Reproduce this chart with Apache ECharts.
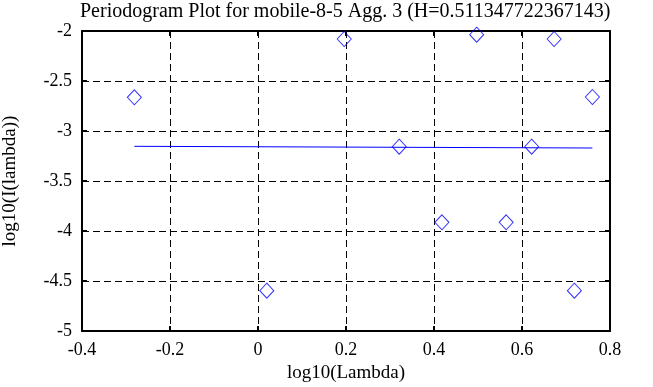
<!DOCTYPE html>
<html>
<head>
<meta charset="utf-8">
<script src="https://cdn.jsdelivr.net/npm/echarts@6/dist/echarts.min.js"></script>
<style>html,body{margin:0;padding:0;background:#fff}#c{width:653px;height:387px}</style>
</head>
<body>
<div id="c"></div>
<script>
var xVals = [-0.281, 0.020, 0.196, 0.321, 0.418, 0.497, 0.564, 0.622, 0.673, 0.719, 0.760];
var yVals = [-2.663, -4.597, -2.080, -3.157, -3.913, -2.037, -3.913, -3.157, -2.080, -4.597, -2.660];
var fitX = [-0.281, 0.760];
var fitY = [-3.153, -3.170];
var xTicks = [-0.4, -0.2, 0, 0.2, 0.4, 0.6, 0.8];
var yTicks = [-5, -4.5, -4, -3.5, -3, -2.5, -2];

var pts = xVals.map(function (x, i) { return [x, yVals[i]]; });
var fit = fitX.map(function (x, i) { return [x, fitY[i]]; });
var font = 'Liberation Serif';

var chart = echarts.init(document.getElementById('c'), null, {renderer: 'canvas'});
function axisCommon(showLabel) {
  return {
    axisLine: {show: true, onZero: false, lineStyle: {color: '#000', width: 2}},
    axisTick: {show: true, inside: true, length: 5, lineStyle: {color: '#000', width: 2}},
    axisLabel: {show: showLabel, color: '#000', fontFamily: font, fontSize: 18},
    splitLine: {show: false}
  };
}
var xMain = Object.assign(axisCommon(true), {
  type: 'value', position: 'bottom', min: xTicks[0], max: xTicks[xTicks.length - 1], interval: 0.2,
  name: 'log10(Lambda)', nameLocation: 'middle', nameGap: 28,
  nameTextStyle: {color: '#000', fontFamily: font, fontSize: 19},
  splitLine: {show: true, lineStyle: {color: '#000', type: [7, 4], width: 1}}
});
xMain.axisLabel.margin = 10;
xMain.axisLabel.formatter = function (v) { return String(Math.round(v * 10) / 10); };
var xTop = Object.assign(axisCommon(false), {
  type: 'value', position: 'top', min: xTicks[0], max: xTicks[xTicks.length - 1], interval: 0.2
});
var yMain = Object.assign(axisCommon(true), {
  type: 'value', position: 'left', min: yTicks[0], max: yTicks[yTicks.length - 1], interval: 0.5,
  name: 'log10(I(lambda))', nameLocation: 'middle', nameGap: 62, nameRotate: 90,
  nameTextStyle: {color: '#000', fontFamily: font, fontSize: 19},
  splitLine: {show: true, lineStyle: {color: '#000', type: [7, 4], width: 1}}
});
yMain.axisLabel.margin = 10;
var yRight = Object.assign(axisCommon(false), {
  type: 'value', position: 'right', min: yTicks[0], max: yTicks[yTicks.length - 1], interval: 0.5
});

chart.setOption({
  animation: false,
  backgroundColor: '#fff',
  title: {
    text: 'Periodogram Plot for mobile-8-5 Agg. 3 (H=0.511347722367143)',
    left: 80, top: 2, padding: 0,
    textStyle: {color: '#000', fontFamily: font, fontSize: 20, fontWeight: 'normal'}
  },
  grid: {left: 82, right: 43, top: 31, bottom: 56, containLabel: false, outerBoundsMode: 'none'},
  xAxis: [xMain, xTop],
  yAxis: [yMain, yRight],
  series: [
    {
      type: 'line', data: fit, xAxisIndex: 0, yAxisIndex: 0,
      symbol: 'none', lineStyle: {color: '#0000ff', width: 1}, z: 3
    },
    {
      type: 'scatter', data: pts, xAxisIndex: 0, yAxisIndex: 0,
      symbol: 'diamond', symbolSize: [14, 15],
      itemStyle: {color: 'rgba(0,0,0,0)', borderColor: '#0000ff', borderWidth: 1}, z: 4
    }
  ]
});
</script>
</body>
</html>
